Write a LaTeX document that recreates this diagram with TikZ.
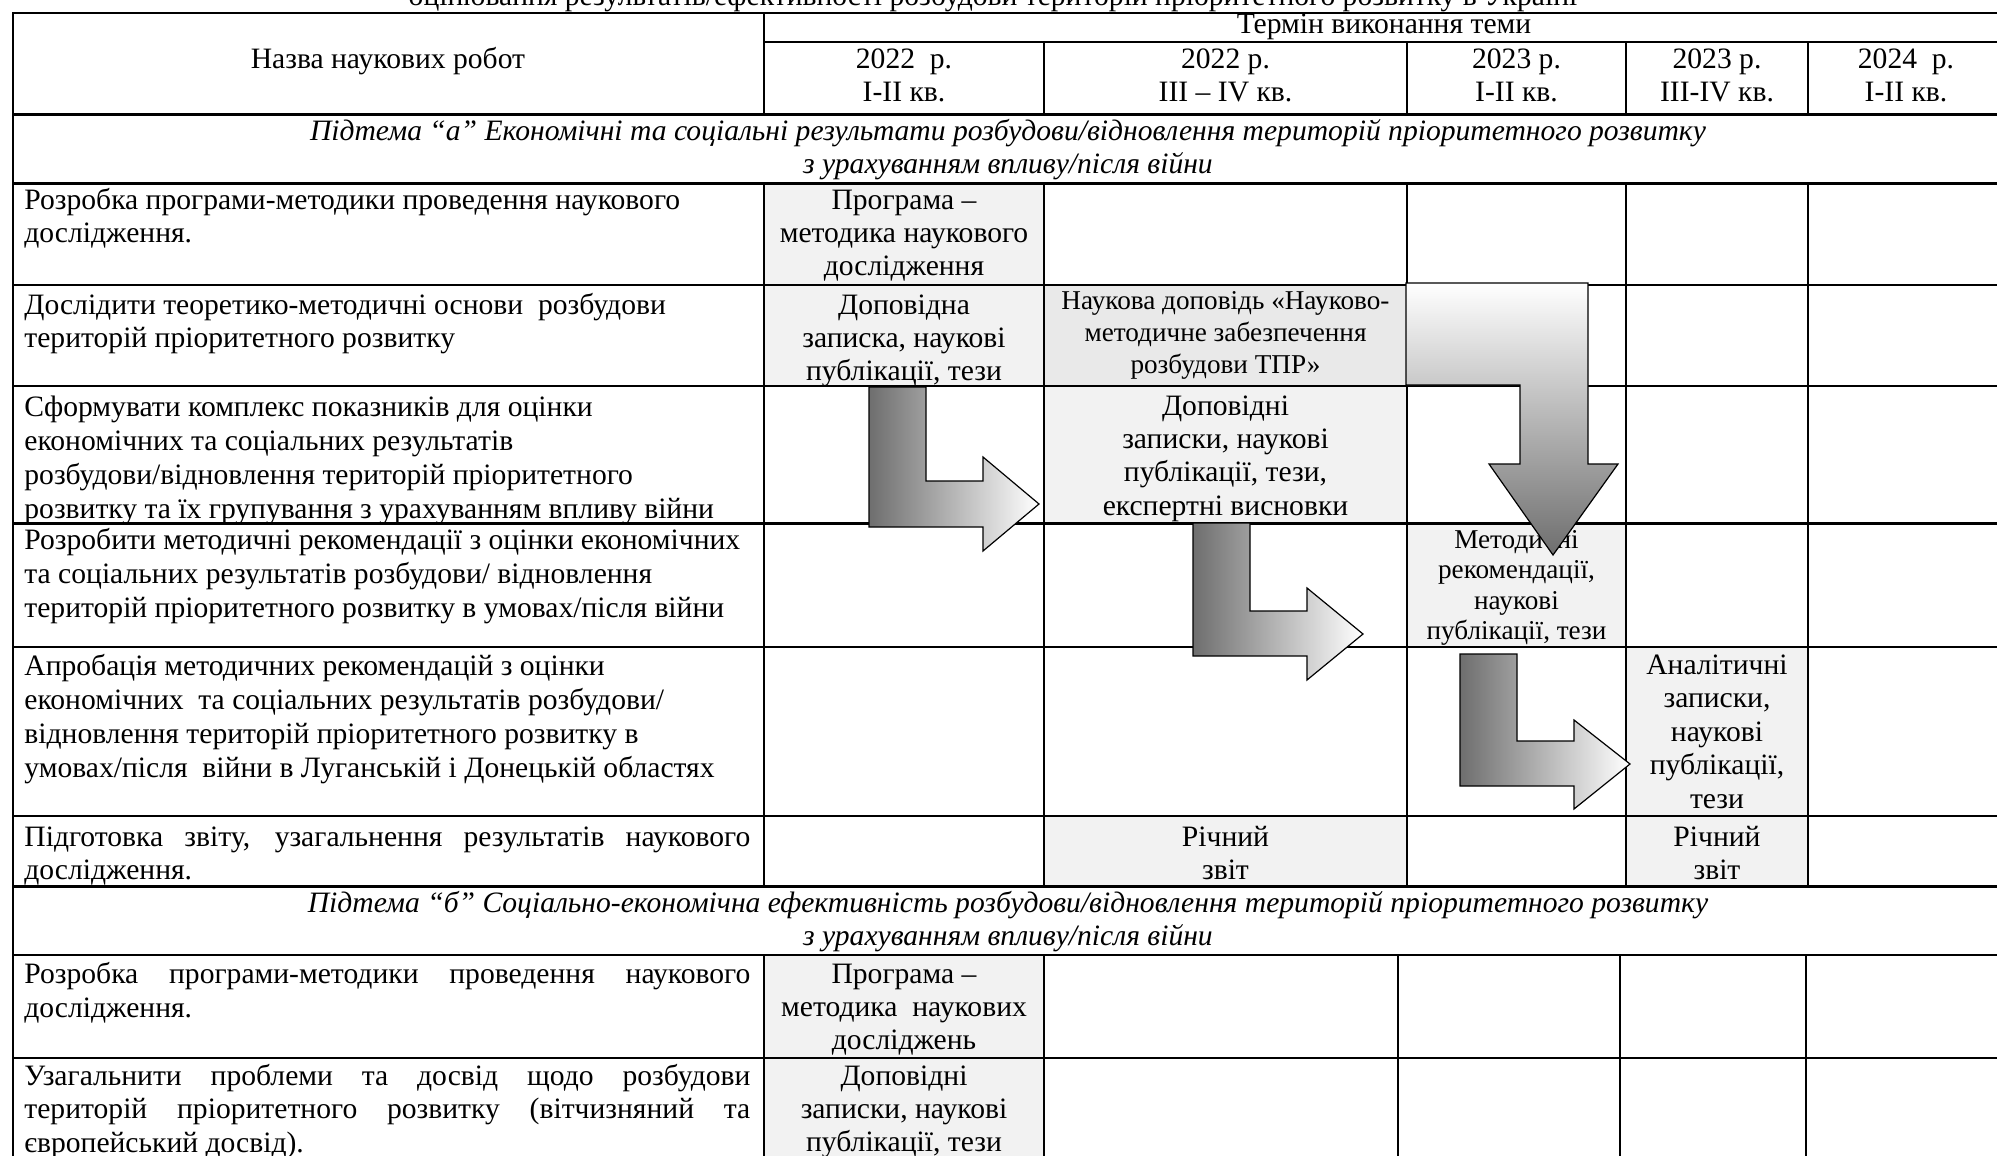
\documentclass[tikz,border=0pt]{standalone}
\usepackage{fontspec}
\setmainfont{Liberation Serif}
\definecolor{cellA}{HTML}{F2F2F2}
\definecolor{cellB}{HTML}{E9E9E9}
\definecolor{arrdark}{HTML}{6E6E6E}
\tikzset{
  gridline/.style={line width=1.15pt, black, line cap=rect},
  txt/.style={inner sep=0pt, font=\fontsize{14.8}{16.6}\selectfont},
  stxt/.style={inner sep=0pt, font=\fontsize{13.6}{15}\selectfont},
  itxt/.style={inner sep=0pt, font=\fontsize{14.8}{16.6}\selectfont\itshape},
  larrow/.style={draw=black, line width=0.6pt, left color=arrdark, right color=white},
  darrow/.style={draw=black, line width=0.6pt, top color=white, bottom color=arrdark},
}
\newcommand\cellines[7]{\foreach \lntext [count=\i] in {#7}{\node[#2,anchor=#3] (#1-\i) at (#4,{#5+(\i-1)*#6}) {\lntext};}}
\newcommand\jl[1]{\makebox[363pt][s]{#1}}
\begin{document}
\begin{tikzpicture}[x=0.5pt,y=-0.5pt]
\useasboundingbox (0,0) rectangle (1997,1156);
% column / row coordinates
\def\XO{12.7}\def\XA{764}\def\XB{1044}\def\XC{1407}\def\XD{1626}\def\XE{1808}\def\XF{2004}
\def\LC{1398}\def\LD{1620}\def\LE{1806}
\def\YO{12.7}\def\YT{42}\def\YH{114.6}\def\YA{183.4}
\def\RA{285}\def\RB{386}\def\RC{523.5}\def\RD{647}\def\RE{816.3}\def\RF{886.4}
\def\YB{955}\def\RG{1058.3}\def\RH{1200}
% cell fills
\fill[cellA] (\XA,\YA) rectangle (\XB,\RA);
\fill[cellA] (\XA,\RA) rectangle (\XB,\RB);
\fill[cellB] (\XB,\RA) rectangle (\XC,\RB);
\fill[cellA] (\XB,\RB) rectangle (\XC,\RC);
\fill[cellA] (\XC,\RC) rectangle (\XD,\RD);
\fill[cellA] (\XD,\RD) rectangle (\XE,\RE);
\fill[cellA] (\XB,\RE) rectangle (\XC,\RF);
\fill[cellA] (\XD,\RE) rectangle (\XE,\RF);
\fill[cellA] (\XA,\YB) rectangle (\XB,\RG);
\fill[cellA] (\XA,\RG) rectangle (\XB,\RH);
% grid
\draw[gridline] (\XO,\YO) -- (\XF,\YO);
\draw[gridline] (\XA,\YT) -- (\XF,\YT);
\foreach \yy in {\YH,\YA,\RA,\RB,\RC,\RD,\RE,\RF,\YB,\RG}
  \draw[gridline] (\XO,\yy) -- (\XF,\yy);
\draw[gridline] (\XO,\YO) -- (\XO,\RH);
\draw[gridline] (\XF,\YO) -- (\XF,\RH);
\draw[gridline] (\XA,\YO) -- (\XA,\YH);
\draw[gridline] (\XA,\YA) -- (\XA,\RF);
\draw[gridline] (\XA,\YB) -- (\XA,\RH);
\foreach \xx in {\XB,\XC,\XD,\XE}{
  \draw[gridline] (\xx,\YT) -- (\xx,\YH);
  \draw[gridline] (\xx,\YA) -- (\xx,\RF);
}
\foreach \xx in {\XB,\LC,\LD,\LE}
  \draw[gridline] (\xx,\YB) -- (\xx,\RH);
% title (cut off at top, as in the reference)
\node[txt,anchor=base] (title) at (993,6) {оцінювання результатів/ефективності розбудови територій пріоритетного розвитку в Україні};
% header
\node[txt,anchor=base] (hname) at (388,69) {Назва наукових робот};
\node[txt,anchor=base] (hterm) at (1384,34) {Термін виконання теми};
\cellines{hA}{txt}{base}{904}{69}{33}{{2022~ р.},{I-II кв.}}
\cellines{hB}{txt}{base}{1225.5}{69}{33}{{2022 р.},{III – IV кв.}}
\cellines{hC}{txt}{base}{1516.5}{69}{33}{{2023 р.},{I-II кв.}}
\cellines{hD}{txt}{base}{1717}{69}{33}{{2023 р.},{III-IV кв.}}
\cellines{hE}{txt}{base}{1906}{69}{33}{{2024~ р.},{I-II кв.}}
% subtopic a
\cellines{suba}{itxt}{base}{1008}{140.5}{33}{{Підтема “а” Економічні та соціальні результати розбудови/відновлення територій пріоритетного розвитку},{з урахуванням впливу/після війни}}
% column 1
\cellines{ra}{txt}{base west}{24}{209}{33.6}{{Розробка програми-методики проведення наукового},{дослідження.}}
\cellines{rb}{txt}{base west}{24}{314}{33.6}{{Дослідити теоретико-методичні основи~ розбудови},{територій пріоритетного розвитку}}
\cellines{rc}{txt}{base west}{24}{416}{34}{{Сформувати комплекс показників для оцінки},{економічних та соціальних результатів},{розбудови/відновлення територій пріоритетного},{розвитку та їх групування з урахуванням впливу війни}}
\cellines{rd}{txt}{base west}{24}{549}{34}{{Розробити методичні рекомендації з оцінки економічних},{та соціальних результатів розбудови/ відновлення},{територій пріоритетного розвитку в умовах/після війни}}
\cellines{re}{txt}{base west}{24}{675}{34.2}{{Апробація методичних рекомендацій з оцінки},{економічних~ та соціальних результатів розбудови/},{відновлення територій пріоритетного розвитку в},{умовах/після~ війни в Луганській і Донецькій областях}}
\cellines{rf}{txt}{base west}{24}{846}{33.6}{{\jl{Підготовка звіту, узагальнення результатів наукового}},{дослідження.}}
% subtopic b
\cellines{subb}{itxt}{base}{1008}{912}{33}{{Підтема “б” Соціально-економічна ефективність розбудови/відновлення територій пріоритетного розвитку},{з урахуванням впливу/після війни}}
\cellines{rg}{txt}{base west}{24}{983.5}{33.6}{{\jl{Розробка програми-методики проведення наукового}},{дослідження.}}
\cellines{rh}{txt}{base west}{24}{1085}{33.6}{{\jl{Узагальнити проблеми та досвід щодо розбудови}},{\jl{територій пріоритетного розвитку (вітчизняний та}},{європейський досвід).}}
% result cells
\cellines{ca}{txt}{base}{904}{209}{33.2}{{Програма –},{методика наукового},{дослідження}}
\cellines{cb}{txt}{base}{904}{314}{33.2}{{Доповідна},{записка, наукові},{публікації, тези}}
\cellines{cc}{stxt}{base}{1225.5}{309}{32}{{Наукова доповідь «Науково-},{методичне забезпечення},{розбудови ТПР»}}
\cellines{cd}{txt}{base}{1225.5}{415.5}{33.2}{{Доповідні},{записки, наукові},{публікації, тези,},{експертні висновки}}
\cellines{ce}{stxt}{base}{1516.5}{548}{30.5}{{Методичні},{рекомендації,},{наукові},{публікації, тези}}
\cellines{cf}{txt}{base}{1717}{674}{33.6}{{Аналітичні},{записки,},{наукові},{публікації,},{тези}}
\cellines{cg}{txt}{base}{1225.5}{846}{33}{{Річний},{звіт}}
\cellines{ch}{txt}{base}{1717}{846}{33}{{Річний},{звіт}}
\cellines{ci}{txt}{base}{904}{983.5}{33.2}{{Програма –},{методика~ наукових},{досліджень}}
\cellines{cj}{txt}{base}{904}{1085}{33.2}{{Доповідні},{записки, наукові},{публікації, тези}}
% arrows
\path[larrow] (869,387) -- (926,387) -- (926,481) -- (983,481) -- (983,457) -- (1039,504) -- (983,551) -- (983,527) -- (869,527) -- cycle;
\path[larrow] (1193,523) -- (1250,523) -- (1250,611) -- (1307,611) -- (1307,588) -- (1363,634) -- (1307,680) -- (1307,656) -- (1193,656) -- cycle;
\path[larrow] (1460,654) -- (1517,654) -- (1517,741) -- (1574,741) -- (1574,720) -- (1630,764) -- (1574,809) -- (1574,786) -- (1460,786) -- cycle;
\path[darrow] (1406,283) -- (1588,283) -- (1588,464) -- (1618,464) -- (1553,555) -- (1489,464) -- (1520,464) -- (1520,385) -- (1406,385) -- cycle;
\end{tikzpicture}
\end{document}
